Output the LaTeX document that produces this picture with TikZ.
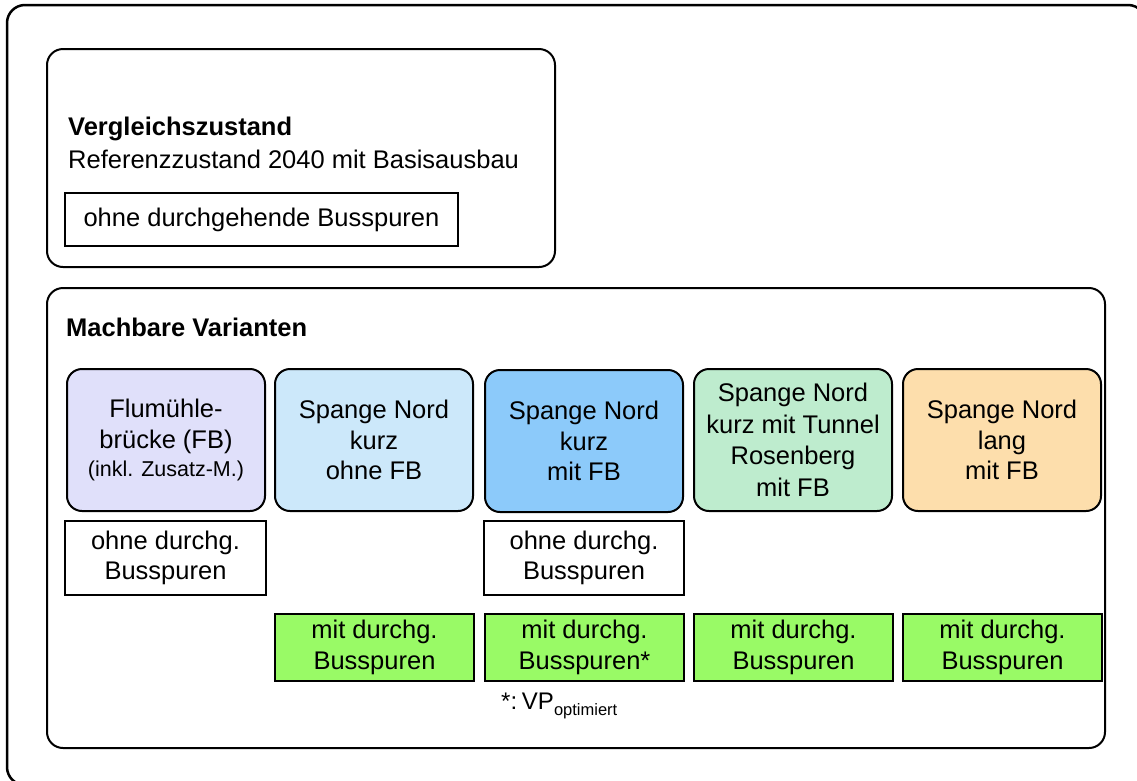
\documentclass[tikz,border=0pt]{standalone}
\usepackage{fontspec}
\setmainfont{Liberation Sans}
\definecolor{cfb}{RGB}{224,224,250}
\definecolor{cskurz}{RGB}{204,232,250}
\definecolor{csfb}{RGB}{140,202,250}
\definecolor{ctun}{RGB}{190,236,206}
\definecolor{clang}{RGB}{253,222,172}
\definecolor{cbus}{RGB}{153,250,102}
\tikzset{
  frame/.style={draw, line width=2pt, rounded corners=16pt},
  varbox/.style={draw, line width=2pt, rounded corners=15pt, minimum width=198pt, minimum height=142pt, align=center, inner sep=0pt, anchor=north west},
  busbox/.style={draw, line width=2pt, minimum width=200pt, minimum height=71pt, align=center, inner sep=0pt, anchor=north west},
  greenbox/.style={busbox, fill=cbus, minimum height=67pt},
  lbl/.style={anchor=west, inner sep=0pt}
}
\begin{document}
\begin{tikzpicture}[x=1pt,y=-1pt,font=\fontsize{25.5}{30.5}\selectfont]
\useasboundingbox (0,0) rectangle (1137,780);
\clip (0,0) rectangle (1137,780);
\draw[line width=2.5pt, rounded corners=18pt] (7,5) rectangle (1146,785);
% Vergleichszustand
\node[frame, minimum width=508pt, minimum height=218pt, anchor=north west, inner sep=0pt] (vz) at (46,48) {};
\node[lbl, font=\fontsize{25.5}{30.5}\selectfont\bfseries] (vzt) at (68,129) {Vergleichszustand};
\node[lbl] (vzr) at (68,159) {Referenzzustand 2040 mit Basisausbau};
\node[draw, line width=2pt, minimum width=393pt, minimum height=53pt, anchor=north west, inner sep=0pt] (vzb) at (64,192) {ohne durchgehende Busspuren};
% Machbare Varianten
\node[frame, minimum width=1058pt, minimum height=460pt, anchor=north west, inner sep=0pt] (mv) at (46,287) {};
\node[lbl, font=\fontsize{25.5}{30.5}\selectfont\bfseries] (mvt) at (66,327) {Machbare Varianten};
\node[varbox, fill=cfb] (v1) at (66,368) {Flumühle-\\brücke (FB)\\[-2pt]{\fontsize{21.5}{26}\selectfont(inkl. Zusatz-M.)}};
\node[varbox, fill=cskurz] (v2) at (274,368) {Spange Nord\\kurz\\ohne FB};
\node[varbox, fill=csfb] (v3) at (484,369) {Spange Nord\\kurz\\mit FB};
\node[varbox, fill=ctun, font=\fontsize{25.5}{31.5}\selectfont] (v4) at (693,368) {Spange Nord\\kurz mit Tunnel\\Rosenberg\\mit FB};
\node[varbox, fill=clang] (v5) at (902,368) {Spange Nord\\lang\\mit FB};
\node[busbox, minimum width=201pt, minimum height=74pt] (o1) at (64,520) {ohne durchg.\\Busspuren};
\node[busbox, minimum width=200pt, minimum height=74pt] (o3) at (483,520) {ohne durchg.\\Busspuren};
\node[greenbox, minimum width=199pt] (g2) at (274,613) {mit durchg.\\Busspuren};
\node[greenbox, minimum width=199pt] (g3) at (484,613) {mit durchg.\\Busspuren*};
\node[greenbox, minimum width=199pt] (g4) at (693,613) {mit durchg.\\Busspuren};
\node[greenbox, minimum width=199pt] (g5) at (902,613) {mit durchg.\\Busspuren};
\node[lbl, font=\fontsize{24}{28}\selectfont] (fn) at (501,706) {*:\hspace{0.2em}VP\raisebox{-0.45ex}{\fontsize{16.5}{18}\selectfont optimiert}};
\end{tikzpicture}
\end{document}
